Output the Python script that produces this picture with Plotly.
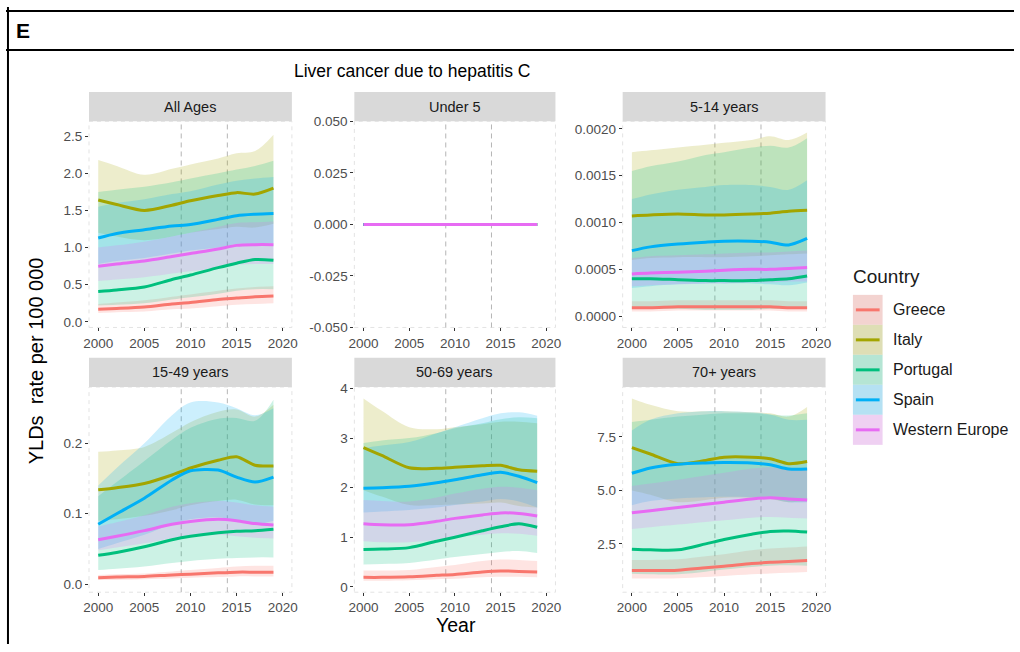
import plotly.graph_objects as go

W, H = 1020, 652

# ---------------- data ----------------
YEARS = [2000, 2002, 2005, 2008, 2010, 2013, 2015, 2017, 2019]
COUNTRIES = ["Greece", "Italy", "Portugal", "Spain", "Western Europe"]
COLORS = ["#F8766D", "#A3A500", "#00BF7D", "#00B0F6", "#E76BF3"]
PANELS = ["All Ages", "Under 5", "5-14 years", "15-49 years", "50-69 years", "70+ years"]
X_TICKS = [2000, 2005, 2010, 2015, 2020]
VLINES = [2009, 2014]

# All Ages
ALL_MEAN = {
    "Greece": [0.17, 0.18, 0.20, 0.24, 0.26, 0.30, 0.32, 0.34, 0.35],
    "Italy": [1.64, 1.58, 1.50, 1.57, 1.63, 1.70, 1.74, 1.72, 1.80],
    "Portugal": [0.41, 0.43, 0.47, 0.57, 0.63, 0.73, 0.79, 0.84, 0.83],
    "Spain": [1.13, 1.19, 1.24, 1.29, 1.31, 1.38, 1.43, 1.45, 1.46],
    "Western Europe": [0.75, 0.78, 0.82, 0.88, 0.92, 0.98, 1.03, 1.04, 1.04],
}
ALL_LO = {
    "Greece": [0.12, 0.13, 0.14, 0.17, 0.18, 0.21, 0.23, 0.24, 0.25],
    "Italy": [1.20, 1.15, 1.10, 1.15, 1.20, 1.25, 1.28, 1.27, 1.32],
    "Portugal": [0.22, 0.23, 0.25, 0.30, 0.33, 0.38, 0.42, 0.44, 0.44],
    "Spain": [0.78, 0.82, 0.86, 0.92, 0.96, 1.00, 1.05, 1.05, 1.06],
    "Western Europe": [0.55, 0.57, 0.60, 0.65, 0.68, 0.73, 0.77, 0.78, 0.78],
}
ALL_HI = {
    "Greece": [0.24, 0.26, 0.29, 0.34, 0.37, 0.42, 0.45, 0.47, 0.48],
    "Italy": [2.18, 2.10, 1.98, 2.06, 2.12, 2.20, 2.27, 2.30, 2.52],
    "Portugal": [1.75, 1.78, 1.82, 1.88, 1.93, 2.00, 2.05, 2.10, 2.17],
    "Spain": [1.55, 1.60, 1.65, 1.72, 1.76, 1.85, 1.90, 1.93, 1.95],
    "Western Europe": [1.00, 1.03, 1.08, 1.15, 1.20, 1.28, 1.33, 1.34, 1.35],
}

# Under 5 (all zero)
U5_MEAN = {c: [0, 0, 0, 0, 0, 0, 0, 0, 0] for c in COUNTRIES}
U5_LO = {c: [0, 0, 0, 0, 0, 0, 0, 0, 0] for c in COUNTRIES}
U5_HI = {c: [0, 0, 0, 0, 0, 0, 0, 0, 0] for c in COUNTRIES}

# 5-14 years
Y514_MEAN = {
    "Greece": [0.00009, 0.00009, 0.00010, 0.00010, 0.00010, 0.00010, 0.00010, 0.00009, 0.00009],
    "Italy": [0.00107, 0.00108, 0.00109, 0.00108, 0.00108, 0.00109, 0.00110, 0.00112, 0.00113],
    "Portugal": [0.00040, 0.00040, 0.00039, 0.00038, 0.00038, 0.00038, 0.00039, 0.00040, 0.00043],
    "Spain": [0.00070, 0.00074, 0.00077, 0.00079, 0.00080, 0.00080, 0.00079, 0.00076, 0.00083],
    "Western Europe": [0.00045, 0.00046, 0.00047, 0.00048, 0.00049, 0.00050, 0.00050, 0.00051, 0.00052],
}
Y514_LO = {
    "Greece": [0.00005, 0.00005, 0.00006, 0.00006, 0.00006, 0.00006, 0.00006, 0.00005, 0.00005],
    "Italy": [0.00060, 0.00062, 0.00063, 0.00063, 0.00063, 0.00064, 0.00065, 0.00066, 0.00067],
    "Portugal": [0.00008, 0.00008, 0.00008, 0.00007, 0.00007, 0.00007, 0.00008, 0.00008, 0.00008],
    "Spain": [0.00030, 0.00032, 0.00034, 0.00035, 0.00035, 0.00035, 0.00034, 0.00033, 0.00036],
    "Western Europe": [0.00032, 0.00033, 0.00034, 0.00035, 0.00035, 0.00036, 0.00036, 0.00037, 0.00037],
}
Y514_HI = {
    "Greece": [0.00016, 0.00016, 0.00017, 0.00017, 0.00017, 0.00017, 0.00017, 0.00016, 0.00016],
    "Italy": [0.00175, 0.00177, 0.00180, 0.00183, 0.00185, 0.00188, 0.00192, 0.00188, 0.00196],
    "Portugal": [0.00155, 0.00160, 0.00165, 0.00172, 0.00175, 0.00180, 0.00182, 0.00180, 0.00190],
    "Spain": [0.00125, 0.00130, 0.00135, 0.00138, 0.00140, 0.00140, 0.00138, 0.00135, 0.00145],
    "Western Europe": [0.00062, 0.00064, 0.00065, 0.00066, 0.00067, 0.00068, 0.00068, 0.00069, 0.00070],
}

# 15-49 years
Y1549_MEAN = {
    "Greece": [0.009, 0.010, 0.011, 0.013, 0.014, 0.016, 0.017, 0.017, 0.017],
    "Italy": [0.134, 0.137, 0.143, 0.155, 0.165, 0.176, 0.181, 0.169, 0.168],
    "Portugal": [0.041, 0.045, 0.053, 0.063, 0.068, 0.073, 0.075, 0.076, 0.078],
    "Spain": [0.085, 0.100, 0.122, 0.148, 0.161, 0.162, 0.152, 0.145, 0.152],
    "Western Europe": [0.063, 0.068, 0.076, 0.085, 0.089, 0.092, 0.090, 0.086, 0.084],
}
Y1549_LO = {
    "Greece": [0.006, 0.006, 0.007, 0.008, 0.009, 0.010, 0.011, 0.011, 0.011],
    "Italy": [0.090, 0.092, 0.097, 0.105, 0.112, 0.118, 0.120, 0.113, 0.112],
    "Portugal": [0.020, 0.022, 0.025, 0.030, 0.033, 0.036, 0.037, 0.038, 0.038],
    "Spain": [0.050, 0.058, 0.070, 0.085, 0.092, 0.095, 0.090, 0.085, 0.090],
    "Western Europe": [0.048, 0.052, 0.058, 0.065, 0.068, 0.070, 0.068, 0.066, 0.065],
}
Y1549_HI = {
    "Greece": [0.013, 0.014, 0.015, 0.018, 0.020, 0.023, 0.025, 0.026, 0.026],
    "Italy": [0.188, 0.190, 0.195, 0.215, 0.230, 0.245, 0.248, 0.238, 0.255],
    "Portugal": [0.125, 0.145, 0.175, 0.205, 0.222, 0.235, 0.236, 0.232, 0.262],
    "Spain": [0.140, 0.165, 0.200, 0.240, 0.258, 0.258, 0.250, 0.240, 0.250],
    "Western Europe": [0.082, 0.088, 0.098, 0.110, 0.115, 0.118, 0.116, 0.112, 0.110],
}

# 50-69 years
Y5069_MEAN = {
    "Greece": [0.19, 0.19, 0.20, 0.23, 0.25, 0.30, 0.32, 0.31, 0.30],
    "Italy": [2.81, 2.65, 2.40, 2.39, 2.41, 2.44, 2.45, 2.36, 2.33],
    "Portugal": [0.75, 0.76, 0.79, 0.92, 1.00, 1.13, 1.21, 1.27, 1.20],
    "Spain": [1.99, 2.00, 2.03, 2.10, 2.16, 2.26, 2.31, 2.23, 2.10],
    "Western Europe": [1.27, 1.25, 1.25, 1.32, 1.38, 1.45, 1.49, 1.48, 1.43],
}
Y5069_LO = {
    "Greece": [0.12, 0.12, 0.13, 0.15, 0.16, 0.19, 0.20, 0.20, 0.19],
    "Italy": [1.95, 1.82, 1.65, 1.65, 1.66, 1.68, 1.70, 1.63, 1.60],
    "Portugal": [0.45, 0.46, 0.48, 0.55, 0.60, 0.66, 0.70, 0.72, 0.68],
    "Spain": [1.50, 1.52, 1.55, 1.60, 1.65, 1.72, 1.77, 1.72, 1.60],
    "Western Europe": [0.92, 0.90, 0.90, 0.95, 1.00, 1.05, 1.08, 1.07, 1.03],
}
Y5069_HI = {
    "Greece": [0.33, 0.33, 0.34, 0.40, 0.44, 0.52, 0.55, 0.54, 0.52],
    "Italy": [3.80, 3.55, 3.22, 3.18, 3.22, 3.28, 3.33, 3.33, 3.30],
    "Portugal": [2.90, 2.95, 3.00, 3.10, 3.20, 3.30, 3.38, 3.42, 3.40],
    "Spain": [2.80, 2.85, 2.92, 3.10, 3.22, 3.40, 3.50, 3.52, 3.45],
    "Western Europe": [1.75, 1.73, 1.72, 1.80, 1.88, 1.98, 2.02, 2.00, 1.95],
}

# 70+ years
Y70_MEAN = {
    "Greece": [1.25, 1.25, 1.27, 1.38, 1.45, 1.58, 1.64, 1.68, 1.72],
    "Italy": [7.00, 6.70, 6.25, 6.40, 6.55, 6.55, 6.48, 6.25, 6.35],
    "Portugal": [2.25, 2.22, 2.22, 2.50, 2.70, 2.95, 3.08, 3.10, 3.05],
    "Spain": [5.80, 6.05, 6.22, 6.28, 6.30, 6.28, 6.20, 6.00, 6.00],
    "Western Europe": [3.95, 4.05, 4.20, 4.35, 4.45, 4.60, 4.65, 4.60, 4.55],
}
Y70_LO = {
    "Greece": [0.88, 0.88, 0.89, 0.95, 1.00, 1.08, 1.12, 1.15, 1.18],
    "Italy": [5.00, 4.80, 4.45, 4.55, 4.65, 4.65, 4.60, 4.45, 4.50],
    "Portugal": [1.10, 1.08, 1.08, 1.20, 1.30, 1.42, 1.48, 1.50, 1.48],
    "Spain": [4.30, 4.50, 4.62, 4.68, 4.70, 4.68, 4.62, 4.45, 4.45],
    "Western Europe": [3.20, 3.28, 3.40, 3.52, 3.60, 3.72, 3.76, 3.72, 3.68],
}
Y70_HI = {
    "Greece": [1.75, 1.75, 1.78, 1.92, 2.02, 2.20, 2.28, 2.33, 2.38],
    "Italy": [9.30, 9.00, 8.70, 8.70, 8.70, 8.65, 8.60, 8.45, 8.90],
    "Portugal": [8.20, 8.30, 8.45, 8.55, 8.60, 8.60, 8.55, 8.50, 8.60],
    "Spain": [7.80, 8.30, 8.60, 8.70, 8.70, 8.65, 8.55, 8.30, 8.30],
    "Western Europe": [5.20, 5.32, 5.50, 5.70, 5.82, 6.02, 6.08, 6.02, 5.95],
}

Y_TICKS = [
    [0, 0.5, 1.0, 1.5, 2.0, 2.5],
    [-0.05, -0.025, 0.0, 0.025, 0.05],
    [0.0, 0.0005, 0.001, 0.0015, 0.002],
    [0.0, 0.1, 0.2],
    [0, 1, 2, 3, 4],
    [2.5, 5.0, 7.5],
]
Y_DECIMALS = [1, 3, 4, 1, 0, 1]
Y_RANGES = [
    [-0.075, 2.70],
    [-0.05, 0.05],
    [-0.00012, 0.00208],
    [-0.0115, 0.280],
    [-0.11, 4.03],
    [0.24, 9.83],
]

MEANS = [ALL_MEAN, U5_MEAN, Y514_MEAN, Y1549_MEAN, Y5069_MEAN, Y70_MEAN]
LOWS = [ALL_LO, U5_LO, Y514_LO, Y1549_LO, Y5069_LO, Y70_LO]
HIGHS = [ALL_HI, U5_HI, Y514_HI, Y1549_HI, Y5069_HI, Y70_HI]

# ---------------- layout geometry (pixels) ----------------
COLS = [(84, 289.3), (352.5, 556), (624, 829.3)]
ROWS = [(117, 328), (389, 599)]
STRIP_H = 30
FONT = "Liberation Sans, Arial, sans-serif"
TICK_SIZE = 13.5


def px(x):
    return x / W


def py(y):
    return 1 - y / H


def rgba(hex_color, a):
    h = hex_color.lstrip("#")
    r, g, b = int(h[0:2], 16), int(h[2:4], 16), int(h[4:6], 16)
    return f"rgba({r},{g},{b},{a})"


fig = go.Figure()
layout = dict(
    width=W, height=H, margin=dict(l=0, r=0, t=0, b=0),
    paper_bgcolor="white", plot_bgcolor="white", showlegend=False,
    font=dict(family=FONT),
)
shapes = []
annotations = []

for i in range(6):
    r, c = divmod(i, 3)
    n = i + 1
    xa = "x" if n == 1 else f"x{n}"
    ya = "y" if n == 1 else f"y{n}"
    x0, x1 = COLS[c]
    y0, y1 = ROWS[r]
    dec = Y_DECIMALS[i]
    layout[f"xaxis{'' if n == 1 else n}"] = dict(
        domain=[px(x0), px(x1)], range=[1999, 2021], anchor=ya,
        tickvals=X_TICKS, ticktext=[str(v) for v in X_TICKS],
        ticks="outside", ticklen=3, tickcolor="#333333", tickwidth=1,
        tickfont=dict(size=TICK_SIZE, color="#4D4D4D"),
        showgrid=False, zeroline=False, showline=False,
    )
    layout[f"yaxis{'' if n == 1 else n}"] = dict(
        domain=[py(y1), py(y0)], range=Y_RANGES[i], anchor=xa,
        tickvals=Y_TICKS[i], ticktext=[f"{v:.{dec}f}" for v in Y_TICKS[i]],
        ticks="outside", ticklen=3, tickcolor="#333333", tickwidth=1,
        tickfont=dict(size=TICK_SIZE, color="#4D4D4D"),
        showgrid=False, zeroline=False, showline=False,
    )
    # dashed panel border
    shapes.append(dict(type="rect", xref="paper", yref="paper",
                       x0=px(x0), x1=px(x1), y0=py(y1), y1=py(y0),
                       line=dict(color="#E3E3E3", width=1, dash="4px,4px"),
                       fillcolor="rgba(0,0,0,0)", layer="below"))
    # vertical dashed reference lines
    for v in VLINES:
        shapes.append(dict(type="line", xref=xa, yref=f"{ya} domain",
                           x0=v, x1=v, y0=0, y1=1,
                           line=dict(color="#B5B5B5", width=1, dash="5px,4px"),
                           layer="below"))
    # strip
    shapes.append(dict(type="rect", xref="paper", yref="paper",
                       x0=px(x0), x1=px(x1), y0=py(y0), y1=py(y0 - STRIP_H),
                       line=dict(width=0), fillcolor="#D9D9D9"))
    annotations.append(dict(text=PANELS[i], xref="paper", yref="paper",
                            x=px((x0 + x1) / 2), y=py(y0 - STRIP_H / 2),
                            showarrow=False, xanchor="center", yanchor="middle",
                            font=dict(size=14.5, color="#1A1A1A")))

    # ribbons
    for k, cty in enumerate(COUNTRIES):
        fig.add_trace(go.Scatter(
            x=YEARS, y=LOWS[i][cty], mode="lines", line=dict(width=0, shape="spline"),
            xaxis=xa, yaxis=ya, hoverinfo="skip"))
        fig.add_trace(go.Scatter(
            x=YEARS, y=HIGHS[i][cty], mode="lines", line=dict(width=0, shape="spline"),
            fill="tonexty", fillcolor=rgba(COLORS[k], 0.2),
            xaxis=xa, yaxis=ya, hoverinfo="skip"))
    # lines
    for k, cty in enumerate(COUNTRIES):
        fig.add_trace(go.Scatter(
            x=YEARS, y=MEANS[i][cty], mode="lines", name=cty,
            line=dict(width=3, color=COLORS[k], shape="spline", smoothing=0.8),
            xaxis=xa, yaxis=ya))

# ---------------- legend (drawn) ----------------
annotations.append(dict(text="Country", xref="paper", yref="paper", x=px(855), y=py(276),
                        showarrow=False, xanchor="left", yanchor="middle",
                        font=dict(size=19, color="#1A1A1A")))
for k, cty in enumerate(COUNTRIES):
    yc = 310 + 30.7 * k
    shapes.append(dict(type="rect", xref="paper", yref="paper",
                       x0=px(857), x1=px(887), y0=py(yc + 15.35), y1=py(yc - 15.35),
                       line=dict(width=0), fillcolor="#F2F2F2"))
    shapes.append(dict(type="rect", xref="paper", yref="paper",
                       x0=px(857), x1=px(887), y0=py(yc + 15.35), y1=py(yc - 15.35),
                       line=dict(width=0), fillcolor=rgba(COLORS[k], 0.25)))
    shapes.append(dict(type="line", xref="paper", yref="paper",
                       x0=px(860), x1=px(884), y0=py(yc), y1=py(yc),
                       line=dict(color=COLORS[k], width=3)))
    annotations.append(dict(text=cty, xref="paper", yref="paper", x=px(896), y=py(yc),
                            showarrow=False, xanchor="left", yanchor="middle",
                            font=dict(size=16, color="#1A1A1A")))

# ---------------- titles ----------------
annotations.append(dict(text="Liver cancer due to hepatitis C", xref="paper", yref="paper",
                        x=px(411), y=py(66), showarrow=False, xanchor="center", yanchor="middle",
                        font=dict(size=17.5, color="#000000")))
annotations.append(dict(text="YLDs\u00a0 rate per 100 000", xref="paper", yref="paper",
                        x=px(30), y=py(362), showarrow=False, textangle=-90,
                        xanchor="center", yanchor="middle",
                        font=dict(size=20, color="#000000")))
annotations.append(dict(text="Year", xref="paper", yref="paper",
                        x=px(455), y=py(633), showarrow=False, xanchor="center", yanchor="middle",
                        font=dict(size=19.5, color="#000000")))
annotations.append(dict(text="<b>E</b>", xref="paper", yref="paper",
                        x=px(8), y=py(24), showarrow=False, xanchor="left", yanchor="middle",
                        font=dict(size=21, color="#000000")))

# frame lines
for yy in (4, 44):
    shapes.append(dict(type="line", xref="paper", yref="paper",
                       x0=0, x1=1, y0=py(yy), y1=py(yy),
                       line=dict(color="#000000", width=2)))
shapes.append(dict(type="line", xref="paper", yref="paper",
                   x0=px(2), x1=px(2), y0=0, y1=1,
                   line=dict(color="#000000", width=2)))

layout["shapes"] = shapes
layout["annotations"] = annotations
fig.update_layout(**layout)

fig.write_html("out.html", config={"displayModeBar": False},
               post_script="document.body.style.margin='0';")
